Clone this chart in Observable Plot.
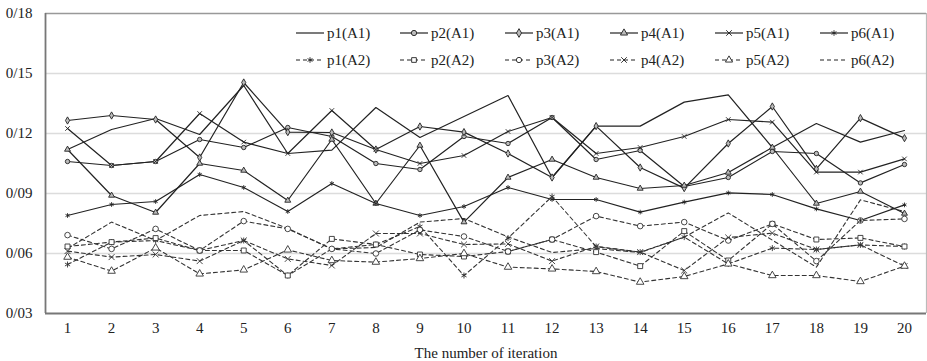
<!DOCTYPE html>
<html><head><meta charset="utf-8">
<script src="https://cdn.jsdelivr.net/npm/d3@7"></script>
<script src="https://cdn.jsdelivr.net/npm/@observablehq/plot@0.6"></script>
<style>body{margin:0;background:#fff;}</style>
</head><body><div id="chart"></div>
<script>
const iterations = [1,2,3,4,5,6,7,8,9,10,11,12,13,14,15,16,17,18,19,20];
const yTicks = [0.03,0.06,0.09,0.12,0.15,0.18];
const gridTicks = [0.06,0.09,0.12,0.15];
const seriesA1 = ["p1(A1)","p2(A1)","p3(A1)","p4(A1)","p5(A1)","p6(A1)"];
const seriesA2 = ["p1(A2)","p2(A2)","p3(A2)","p4(A2)","p5(A2)","p6(A2)"];

const p1A1 = [0.112,0.122,0.1275,0.1195,0.144,0.110,0.1117,0.133,0.118,0.1285,0.139,0.098,0.1237,0.1237,0.1357,0.1393,0.113,0.125,0.1157,0.1215];
const p2A1 = [0.106,0.104,0.106,0.117,0.113,0.123,0.1185,0.105,0.102,0.1185,0.115,0.128,0.107,0.1115,0.0935,0.098,0.111,0.110,0.0953,0.1045];
const p3A1 = [0.1265,0.129,0.127,0.108,0.1455,0.1207,0.1205,0.112,0.1235,0.1207,0.110,0.098,0.1237,0.103,0.0927,0.115,0.1335,0.1023,0.1277,0.1177];
const p4A1 = [0.112,0.089,0.0805,0.105,0.1015,0.0865,0.117,0.085,0.114,0.0757,0.098,0.107,0.098,0.0925,0.094,0.1005,0.113,0.085,0.091,0.080];
const p5A1 = [0.1225,0.104,0.106,0.130,0.1157,0.110,0.1315,0.112,0.105,0.109,0.121,0.128,0.110,0.113,0.1185,0.127,0.1257,0.1007,0.1007,0.1073];
const p6A1 = [0.079,0.0845,0.086,0.0995,0.093,0.081,0.095,0.085,0.079,0.0835,0.093,0.087,0.087,0.0807,0.0857,0.0903,0.0895,0.0823,0.0765,0.0843];

const p1A2 = [0.0545,0.0657,0.0665,0.0615,0.0665,0.049,0.0623,0.0645,0.0735,0.049,0.0677,0.0885,0.0635,0.0607,0.0682,0.0548,0.0627,0.062,0.0643,0.0635];
const p2A2 = [0.0635,0.0657,0.0677,0.0615,0.0615,0.049,0.0673,0.0645,0.0595,0.0585,0.061,0.067,0.0607,0.0537,0.0712,0.0565,0.0748,0.067,0.0678,0.0635];
const p3A2 = [0.0692,0.0623,0.0723,0.0615,0.0762,0.0723,0.0623,0.060,0.0718,0.0685,0.061,0.067,0.0787,0.0737,0.0757,0.0665,0.0748,0.0562,0.0765,0.0773];
const p4A2 = [0.0612,0.0582,0.0595,0.0562,0.0665,0.0573,0.054,0.070,0.070,0.0645,0.0648,0.0562,0.0635,0.0607,0.0515,0.068,0.0702,0.062,0.0643,0.0537];
const p5A2 = [0.0582,0.0512,0.0628,0.0498,0.0518,0.0618,0.0565,0.0557,0.0575,0.060,0.0532,0.0523,0.051,0.0457,0.0485,0.0548,0.049,0.049,0.046,0.0537];
const p6A2 = [0.0625,0.0757,0.0665,0.079,0.081,0.0725,0.0623,0.063,0.0757,0.0775,0.0683,0.0605,0.0625,0.0605,0.0682,0.0803,0.0667,0.0532,0.0868,0.081];

const valuesA1 = [p1A1,p2A1,p3A1,p4A1,p5A1,p6A1];
const valuesA2 = [p1A2,p2A2,p3A2,p4A2,p5A2,p6A2];
const symbolA1 = [null,"circle","diamond","triangle","times","asterisk"];
const symbolA2 = ["asterisk","square","circle","times","triangle",null];

function rows(names, vals, syms, group) {
  const out = [];
  names.forEach((n, k) => vals[k].forEach((v, i) => out.push({x: iterations[i], y: v, series: n, sym: syms[k], group})));
  return out;
}
const dataA1 = rows(seriesA1, valuesA1, symbolA1, "A1");
const dataA2 = rows(seriesA2, valuesA2, symbolA2, "A2");

const fmt = d => "0/" + String(Math.round(d * 100)).padStart(2, "0");
const font = "'Liberation Serif', 'Times New Roman', serif";

const chart = Plot.plot({
  width: 927, height: 361,
  marginLeft: 45, marginRight: 1, marginTop: 13, marginBottom: 48,
  style: {fontFamily: font, fontSize: "15px", background: "#fff", color: "#222"},
  x: {domain: [0.5, 20.5]},
  y: {domain: [0.03, 0.18]},
  marks: [
    Plot.ruleY(gridTicks, {stroke: "#dcdcdc", strokeWidth: 1.6}),
    Plot.ruleY([yTicks[yTicks.length-1]], {stroke: "#999", strokeWidth: 1.6}),
    Plot.ruleX([20.5], {stroke: "#bbb", strokeWidth: 1.2}),
    Plot.axisY({ticks: yTicks, tickSize: 0, tickPadding: 13, tickFormat: fmt, label: null, fill: "#222"}),
    Plot.axisX({ticks: iterations, tickSize: 0, tickPadding: 9, tickFormat: d => String(d), label: "The number of iteration", labelAnchor: "center", labelOffset: 44, labelArrow: "none", fill: "#222"}),
    Plot.line(dataA2, {x: "x", y: "y", z: "series", stroke: "#333", strokeWidth: 1.1, strokeDasharray: "4,3"}),
    Plot.line(dataA1, {x: "x", y: "y", z: "series", stroke: "#222", strokeWidth: 1.2}),
    Plot.dot(dataA2.filter(d => d.sym), {x: "x", y: "y", symbol: "sym", r: 2.8, stroke: "#333", strokeWidth: 0.9, fill: "white"}),
    Plot.dot(dataA1.filter(d => d.sym), {x: "x", y: "y", symbol: "sym", r: 2.2, stroke: "#222", strokeWidth: 0.9, fill: "#bbb"}),
    Plot.ruleY([yTicks[0]], {stroke: "#777", strokeWidth: 1.8}),
    Plot.ruleX([0.5], {stroke: "#777", strokeWidth: 1.8})
  ]
});
document.getElementById("chart").append(chart);

// legend (two rows, six columns) inside the plot frame
const svg = d3.select(chart.tagName.toLowerCase() === "svg" ? chart : chart.querySelector("svg"));
const legend = svg.append("g").attr("font-family", font).attr("font-size", 15).attr("fill", "#222").attr("text-anchor", "start");
const colX = [296, 400, 505, 610, 715, 820];
const rowY = [33, 60];
const symGen = d3.symbol().size(22);
const d3sym = {circle: d3.symbolCircle, diamond: d3.symbolDiamond, triangle: d3.symbolTriangle, times: d3.symbolTimes, asterisk: d3.symbolAsterisk, square: d3.symbolSquare};
[[seriesA1, symbolA1, null], [seriesA2, symbolA2, "4,3"]].forEach(([names, syms, dash], r) => {
  names.forEach((n, k) => {
    const x0 = colX[k], y0 = rowY[r];
    legend.append("line").attr("x1", x0).attr("x2", x0 + 28).attr("y1", y0).attr("y2", y0)
      .attr("stroke", "#222").attr("stroke-width", 1.2).attr("stroke-dasharray", dash);
    if (syms[k]) {
      legend.append("path").attr("d", symGen.type(d3sym[syms[k]])())
        .attr("transform", `translate(${x0 + 14},${y0})`)
        .attr("stroke", "#222").attr("stroke-width", 0.9).attr("fill", r === 0 ? "#bbb" : "white");
    }
    legend.append("text").attr("x", x0 + 31).attr("y", y0).attr("dy", "0.35em").attr("text-anchor", "start").text(n);
  });
});
</script>
</body></html>
